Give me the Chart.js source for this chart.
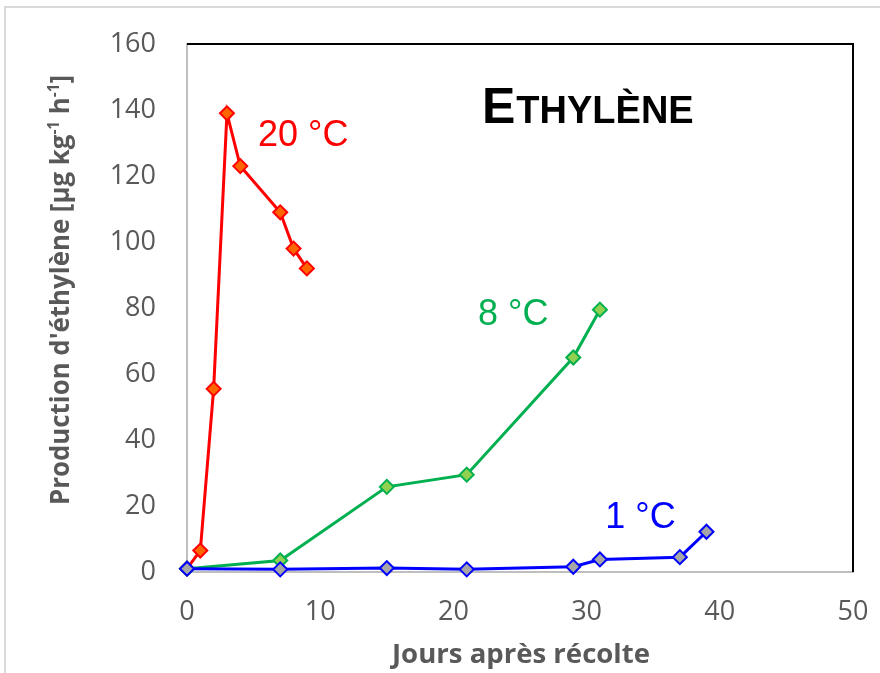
<!DOCTYPE html>
<html>
<head>
<meta charset="utf-8">
<script src="https://cdn.jsdelivr.net/npm/chart.js@4/dist/chart.umd.min.js"></script>
<style>
  html, body { margin: 0; padding: 0; background: #fff; }
  #wrap { width: 880px; height: 673px; }
</style>
</head>
<body>
<div id="wrap"><canvas id="chart" width="880" height="673"></canvas></div>
<script>
'use strict';

// jours après récolte / production d'éthylène
const days1C = [0, 7, 15, 21, 29, 31, 37, 39];
const prod1C = [1, 0.8, 1.2, 0.8, 1.6, 3.8, 4.5, 12.2];

const days8C = [0, 7, 15, 21, 29, 31];
const prod8C = [1, 3.5, 25.8, 29.5, 65, 79.5];

const days20C = [0, 1, 2, 3, 4, 7, 8, 9];
const prod20C = [1, 6.5, 55.5, 139, 123, 109, 98, 92];

const seriesLabels = ['1 °C', '8 °C', '20 °C'];
// anchor of each series label, in data units (left edge, vertical centre)
const labelAnchorX = [31.4, 21.85, 5.33];
const labelAnchorY = [16.4, 78, 132];

const xTicks = [0, 10, 20, 30, 40, 50];
const yTicks = [0, 20, 40, 60, 80, 100, 120, 140, 160];

const TEXT_GRAY = '#595959';
const AXIS_GRAY = '#bfbfbf';

function toPoints(xs, ys) {
    return xs.map((x, i) => ({ x, y: ys[i] }));
}

function fitText(ctx, text, x, y, width) {
    const natural = ctx.measureText(text).width;
    ctx.save();
    ctx.translate(x, y);
    ctx.scale(width / natural, 1);
    ctx.fillText(text, 0, 0);
    ctx.restore();
}

const decorPlugin = {
    id: 'decor',
    beforeDraw(chart) {
        const ctx = chart.ctx;
        ctx.save();
        ctx.fillStyle = '#fff';
        ctx.fillRect(0, 0, chart.width, chart.height);
        ctx.strokeStyle = '#d9d9d9';
        ctx.lineWidth = 2;
        ctx.strokeRect(5, 7, chart.width + 20, chart.height + 20);
        ctx.restore();
    },
    beforeDatasetsDraw(chart) {
        const { ctx, chartArea: a } = chart;
        ctx.save();
        ctx.strokeStyle = '#000';
        ctx.lineWidth = 2;
        ctx.beginPath();
        ctx.moveTo(a.left, a.top);
        ctx.lineTo(a.right, a.top);
        ctx.lineTo(a.right, a.bottom);
        ctx.stroke();
        ctx.restore();
    },
    afterDraw(chart) {
        const { ctx, scales } = chart;
        ctx.save();

        // titre en petites capitales
        ctx.fillStyle = '#000';
        ctx.textBaseline = 'alphabetic';
        ctx.textAlign = 'left';
        ctx.font = 'bold 50px "Liberation Sans", Arial, sans-serif';
        ctx.fillText('E', 482, 123);
        const wE = ctx.measureText('E').width;
        ctx.font = 'bold 38px "Liberation Sans", Arial, sans-serif';
        ctx.fillText('THYLÈNE', 482 + wE + 1, 123);

        // étiquettes des séries
        const colors = chart.data.datasets.map(d => d.borderColor);
        ctx.font = '36px "Liberation Sans", Arial, sans-serif';
        ctx.textBaseline = 'middle';
        seriesLabels.forEach((t, i) => {
            ctx.fillStyle = colors[i];
            ctx.fillText(t, scales.x.getPixelForValue(labelAnchorX[i]), scales.y.getPixelForValue(labelAnchorY[i]));
        });

        // titre de l'axe x
        ctx.fillStyle = TEXT_GRAY;
        ctx.textBaseline = 'alphabetic';
        ctx.font = 'bold 27px "Open Sans", sans-serif';
        fitText(ctx, 'Jours après récolte', 392, 663, 258);

        // titre de l'axe y, avec exposants
        const big = 'bold 27px "Open Sans", sans-serif';
        const small = 'bold 16px "Open Sans", sans-serif';
        const parts = [
            [ "Production d'éthylène [µg kg", big, 0 ],
            [ '-1', small, -10 ],
            [ ' h', big, 0 ],
            [ '-1', small, -10 ],
            [ ']', big, 0 ]
        ];
        let total = 0;
        parts.forEach(p => { ctx.font = p[1]; total += ctx.measureText(p[0]).width; });
        const target = 430;
        ctx.translate(69, 290);
        ctx.rotate(-Math.PI / 2);
        ctx.scale(target / total, 1);
        let px = -total / 2;
        parts.forEach(p => {
            ctx.font = p[1];
            ctx.fillText(p[0], px, p[2]);
            px += ctx.measureText(p[0]).width;
        });
        ctx.restore();
    }
};

const marker = { pointStyle: 'rectRot', pointRadius: 7, pointHoverRadius: 7, pointBorderWidth: 2 };

new Chart(document.getElementById('chart'), {
    type: 'scatter',
    data: {
        datasets: [
            {
                label: seriesLabels[0],
                data: toPoints(days1C, prod1C),
                showLine: true,
                borderColor: '#0000ff',
                borderWidth: 3,
                pointBackgroundColor: '#a6a6a6',
                pointBorderColor: '#0000ff',
                ...marker
            },
            {
                label: seriesLabels[1],
                data: toPoints(days8C, prod8C),
                showLine: true,
                borderColor: '#00b050',
                borderWidth: 3,
                pointBackgroundColor: '#92d050',
                pointBorderColor: '#00b050',
                ...marker
            },
            {
                label: seriesLabels[2],
                data: toPoints(days20C, prod20C),
                showLine: true,
                borderColor: '#ff0000',
                borderWidth: 3,
                pointBackgroundColor: '#ff6600',
                pointBorderColor: '#ff0000',
                ...marker
            }
        ]
    },
    options: {
        responsive: false,
        animation: false,
        clip: false,
        layout: { autoPadding: false, padding: { left: 0, right: 27, top: 44, bottom: 0 } },
        plugins: { legend: { display: false }, tooltip: { enabled: false } },
        scales: {
            x: {
                type: 'linear',
                min: 0,
                max: 50,
                afterFit: s => { s.height = 101; s.paddingLeft = 0; s.paddingRight = 0; },
                afterBuildTicks: s => { s.ticks = xTicks.map(v => ({ value: v })); },
                grid: { display: false, drawTicks: false },
                border: { color: AXIS_GRAY, width: 2 },
                ticks: { color: TEXT_GRAY, padding: 24, font: { family: 'Open Sans', size: 27 } }
            },
            y: {
                type: 'linear',
                min: 0,
                max: 160,
                afterFit: s => { s.width = 187; s.paddingTop = 0; s.paddingBottom = 0; },
                afterBuildTicks: s => { s.ticks = yTicks.map(v => ({ value: v })); },
                grid: { display: false, drawTicks: false },
                border: { color: AXIS_GRAY, width: 2 },
                ticks: { color: TEXT_GRAY, padding: 31, font: { family: 'Open Sans', size: 27 } }
            }
        }
    },
    plugins: [decorPlugin]
});
</script>
</body>
</html>
